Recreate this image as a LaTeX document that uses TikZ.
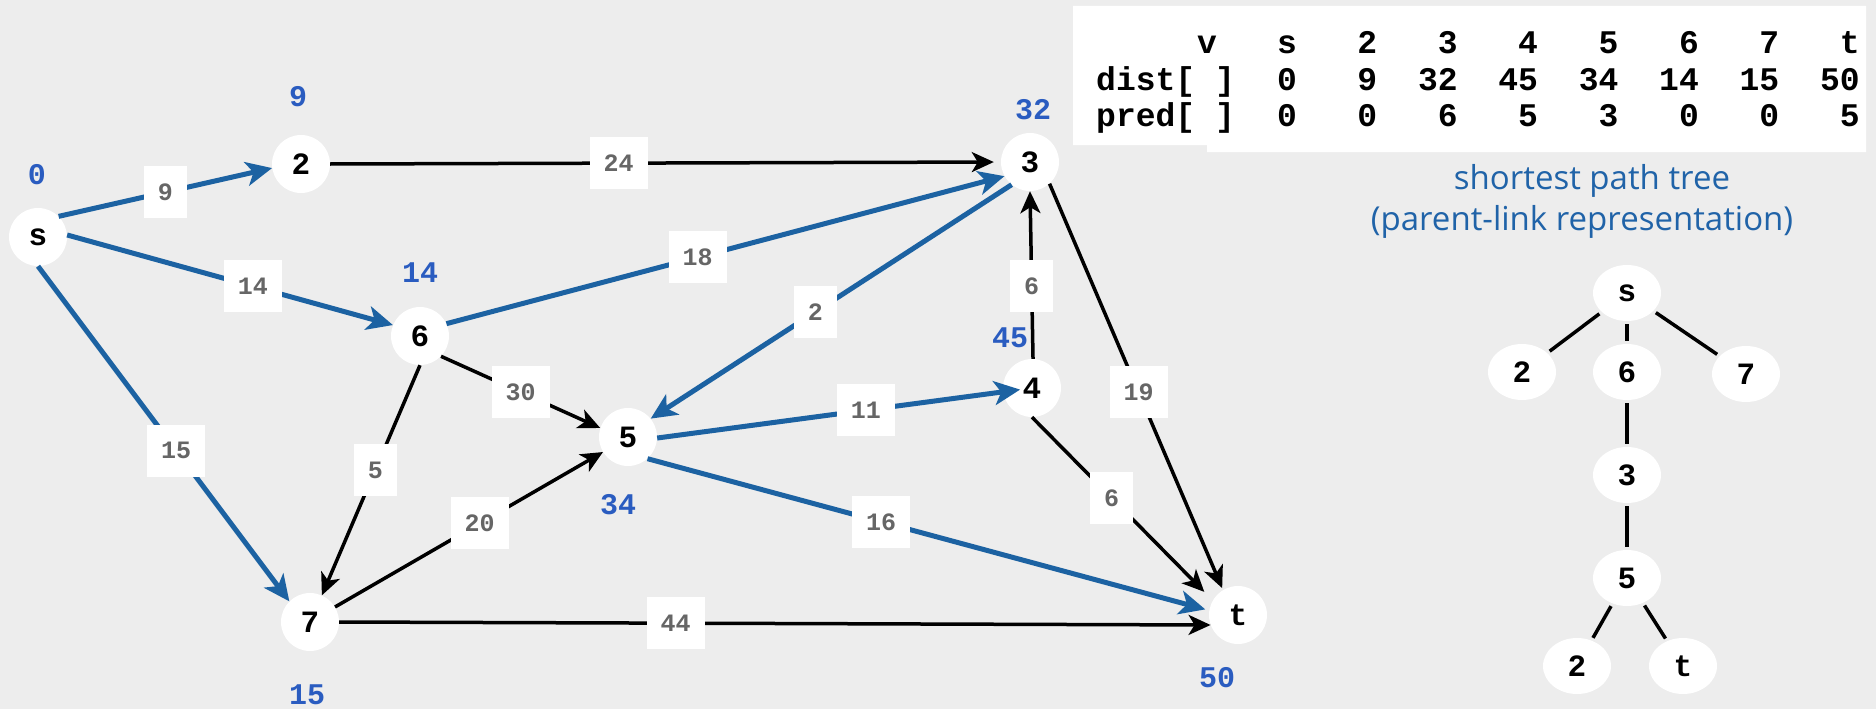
\documentclass[tikz,border=0pt]{standalone}
\usepackage{fontspec}
\usetikzlibrary{arrows.meta,shapes.geometric}
\newfontfamily\monofam{Liberation Mono}
\newfontfamily\capfam{Open Sans}
\newcommand\mb{\monofam\bfseries}
\definecolor{bgc}{HTML}{EDEDED}
\definecolor{eblue}{HTML}{1C62A2}
\definecolor{dblue}{HTML}{2A5CC0}
\definecolor{wgray}{HTML}{666666}
\definecolor{cblue}{HTML}{2063A8}
\begin{document}
\begin{tikzpicture}[x=1pt,y=-1pt,
  vtx/.style={circle,fill=white,minimum size=58pt,inner sep=0pt,font={\fontsize{31}{31}\selectfont\mb}},
  tvtx/.style={ellipse,fill=white,minimum width=68pt,minimum height=56pt,inner sep=0pt,font={\fontsize{31}{31}\selectfont\mb}},
  wt/.style={fill=white,inner xsep=14pt,inner ysep=0pt,minimum height=52pt,text=wgray,font={\fontsize{25}{25}\selectfont\mb}},
  dst/.style={text=dblue,inner sep=0pt,font={\fontsize{30}{30}\selectfont\mb}},
  tcell/.style={inner sep=0pt,font={\fontsize{33}{33}\selectfont\mb}},
  capt/.style={text=cblue,inner sep=0pt,font={\fontsize{33}{33}\selectfont\capfam}},
  be/.style={draw=eblue,line width=5pt,-{Stealth[length=26pt,width=24pt,inset=7pt]}},
  ke/.style={draw=black,line width=3.5pt,-{Stealth[length=22pt,width=20pt,inset=6pt]}},
  te/.style={draw=black,line width=3.5pt,shorten <=3pt,shorten >=3pt}]
\fill[bgc] (0,0) rectangle (1876,709);
\useasboundingbox (0,0) rectangle (1876,709);

% table background
\fill[white] (1073,6) -- (1866,6) -- (1866,152) -- (1207,152) -- (1207,145) -- (1073,145) -- cycle;
\node[tcell,anchor=base east] (hv) at (1217,54) {v};
\foreach \txt [count=\k from 0] in {s,2,3,4,5,6,7,t}
  \node[tcell,anchor=base east] (h\k) at ({1297+80.4*\k},54) {\txt};
\node[tcell,anchor=base west] (dl) at (1096,90) {dist[\ ]};
\foreach \txt [count=\k from 0] in {0,9,32,45,34,14,15,50}
  \node[tcell,anchor=base east] (d\k) at ({1297+80.4*\k},90) {\txt};
\node[tcell,anchor=base west] (pl) at (1096,126) {pred[\ ]};
\foreach \txt [count=\k from 0] in {0,0,6,5,3,0,0,5}
  \node[tcell,anchor=base east] (p\k) at ({1297+80.4*\k},126) {\txt};

% caption
\node[capt] (cap1) at (1592,181) {shortest path tree};
\node[capt] (cap2) at (1582,222) {(parent-link representation)};

% graph vertices
\node[vtx] (s)  at (38,237)  {s};
\node[vtx] (n2) at (301,164) {2};
\node[vtx] (n3) at (1030,162) {3};
\node[vtx] (n6) at (420,336) {6};
\node[vtx] (n5) at (628,437) {5};
\node[vtx] (n4) at (1032,388) {4};
\node[vtx] (n7) at (310,622) {7};
\node[vtx] (t)  at (1238,615) {t};

% distances
\node[dst] (ds) at (37,175) {0};
\node[dst] (d2) at (298,97) {9};
\node[dst] (d6) at (420,273) {14};
\node[dst] (d3) at (1033,110) {32};
\node[dst] (d4) at (1010,338) {45};
\node[dst] (d5) at (618,505) {34};
\node[dst] (d7) at (307,695) {15};
\node[dst] (dt) at (1217,678) {50};

% black edges
\draw[ke,shorten >=7pt] (n2.0) -- node[wt,pos=0.43] {24} (n3.180);
\draw[ke] (n6.316) -- node[wt,pos=0.50] {30} (n5.162);
\draw[ke] (n6.270) -- node[wt,pos=0.455] {5} (n7.66);
\draw[ke] (n7.31) -- node[wt,pos=0.54] {20} (n5.211);
\draw[ke] (n4.88) -- node[wt,pos=0.435] {6} (n3.270);
\draw[ke,shorten >=2pt] (n3.312) -- node[wt,pos=0.513] {19} (t.121);
\draw[ke,shorten >=12pt] (n4.270) -- node[wt,pos=0.44] {6} (t.150);
\draw[ke] (n7.0) -- node[wt,pos=0.386] {44} (t.200);

% blue edges
\draw[be] (s.45) -- node[wt,pos=0.50] {9} (n2.188);
\draw[be] (s.4) -- node[wt,pos=0.57] {14} (n6.158);
\draw[be] (s.270) -- node[wt,pos=0.55] {15} (n7.135);
\draw[be] (n6.25) -- node[wt,pos=0.45] {18} (n3.209);
\draw[be] (n3.231) -- node[wt,pos=0.544] {2} (n5.39);
\draw[be,shorten >=12pt] (n5.358) -- node[wt,pos=0.557] {11} (n4.center);
\draw[be,shorten >=4pt] (n5.312) -- node[wt,pos=0.416] {16} (t.171);

% tree
\node[tvtx] (ts)  at (1627,293) {s};
\node[tvtx] (t2)  at (1522,372) {2};
\node[tvtx] (t6)  at (1627,372) {6};
\node[tvtx] (t7)  at (1746,374) {7};
\node[tvtx] (t3)  at (1627,475) {3};
\node[tvtx] (t5)  at (1627,578) {5};
\node[tvtx] (t2b) at (1577,666) {2};
\node[tvtx] (ttt) at (1683,666) {t};
\draw[te] (ts) -- (t2);
\draw[te] (ts) -- (t6);
\draw[te] (ts) -- (t7);
\draw[te] (t6) -- (t3);
\draw[te] (t3) -- (t5);
\draw[te] (t5) -- (t2b);
\draw[te] (t5) -- (ttt);
\end{tikzpicture}
\end{document}
